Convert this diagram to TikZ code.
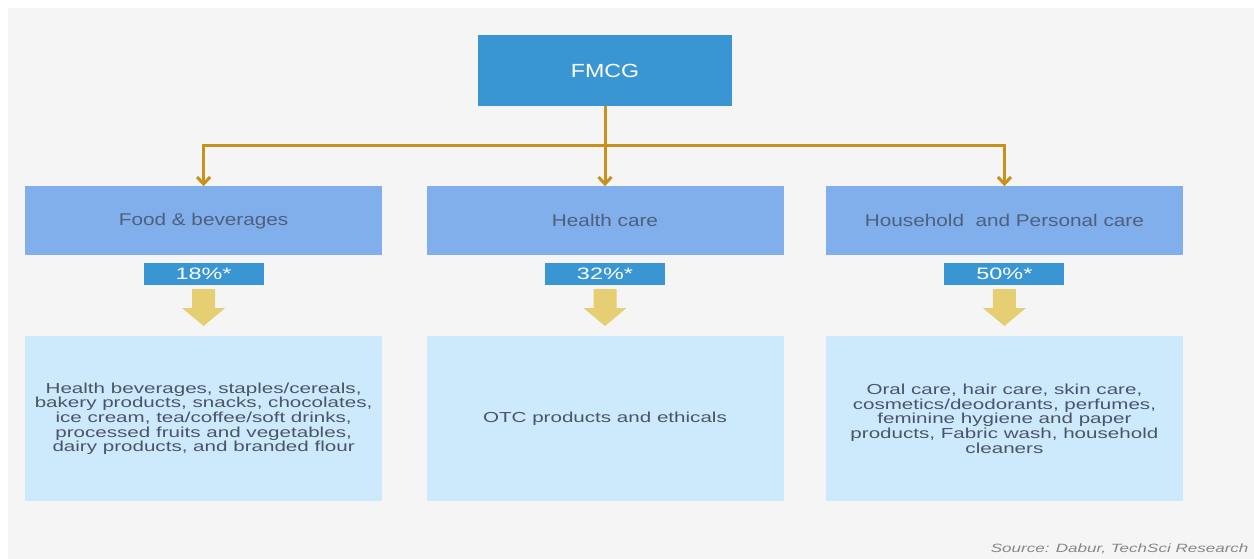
\documentclass[tikz,border=0pt]{standalone}
\usepackage{fontspec}
\newfontfamily\headfont[FakeStretch=1.22]{Liberation Sans}
\newfontfamily\bodyfont[FakeStretch=1.42]{Liberation Sans}
\usepackage{tikz}
\usetikzlibrary{arrows.meta,positioning,calc}
\definecolor{bggray}{RGB}{245,245,245}
\definecolor{fmcgblue}{RGB}{58,150,210}
\definecolor{catblue}{RGB}{128,175,235}
\definecolor{descblue}{RGB}{205,233,252}
\definecolor{linegold}{RGB}{200,145,28}
\definecolor{arrowyellow}{RGB}{230,206,115}
\definecolor{headgray}{RGB}{80,95,125}
\definecolor{bodygray}{RGB}{75,85,100}
\definecolor{srcgray}{RGB}{135,135,135}
\tikzset{
    line/.style    = {-{Straight Barb[length=7pt,width=13pt]}, line width=3pt, draw=linegold},
    topbox/.style  = {fill=fmcgblue, minimum width=254pt, minimum height=71pt,
            text=white, font=\headfont\fontsize{19}{21}\selectfont},
    catbox/.style  = {fill=catblue, minimum width=357pt, minimum height=69pt,
            text=headgray, font=\headfont\fontsize{17}{19}\selectfont},
    pctbox/.style  = {fill=fmcgblue, minimum width=120pt, minimum height=22pt,
            inner sep=0pt, text=white, font=\bodyfont\fontsize{16.5}{18}\selectfont},
    descbox/.style = {fill=descblue, minimum width=357pt, minimum height=165pt,
            align=center, text=bodygray, font=\bodyfont\fontsize{14.5}{14.7}\selectfont},
    yarrow/.style  = {fill=arrowyellow},
}
\begin{document}
\begin{tikzpicture}[x=1pt,y=-1pt]
            \useasboundingbox (0,0) rectangle (1254,559);
            \fill[bggray] (8,8) rectangle (1254,559);
            \begin{scope}
                % Nodes
                \node[topbox] (fmcg) at (605,70.5) {FMCG};
                \node[catbox, below=80pt of fmcg] (health) {Health care};
                \node[catbox, left=44pt of health] (food) {Food \& beverages};
                \node[catbox, right=42pt of health] (household) {Household\ \ and Personal care};
                \node[pctbox, below=7pt of food] (pct1) {18\%*};
                \node[pctbox, below=7pt of health] (pct2) {32\%*};
                \node[pctbox, below=7pt of household] (pct3) {50\%*};
                \node[descbox, below=51pt of pct1] (desc1) {Health beverages, staples/cereals,\\bakery products, snacks, chocolates,\\ice cream, tea/coffee/soft drinks,\\processed fruits and vegetables,\\dairy products, and branded flour};
                \node[descbox, below=51pt of pct2] (desc2) {OTC products and ethicals};
                \node[descbox, below=51pt of pct3] (desc3) {Oral care, hair care, skin care,\\cosmetics/deodorants, perfumes,\\feminine hygiene and paper\\products, Fabric wash, household\\cleaners};
                \node[anchor=east, text=srcgray, font=\bodyfont\itshape\fontsize{12}{13}\selectfont] (source) at (1252,549) {Source: Dabur, TechSci Research};
                % Arrows
                \coordinate (split) at ($(fmcg.south)+(0,39)$);
                \draw[line] (fmcg) -- (health);
                \draw[line] (split) -| (food);
                \draw[line] (split) -| (household);
                \foreach \n in {1,2,3}{
                    \fill[yarrow] ($(pct\n.south)+(-11.5,4)$) -- ++(23,0) -- ++(0,19) -- ++(10,0)
                    -- ++(-21.5,18) -- ++(-21.5,-18) -- ++(10,0) -- cycle;
                }
            \end{scope}
        \end{tikzpicture}
\end{document}
